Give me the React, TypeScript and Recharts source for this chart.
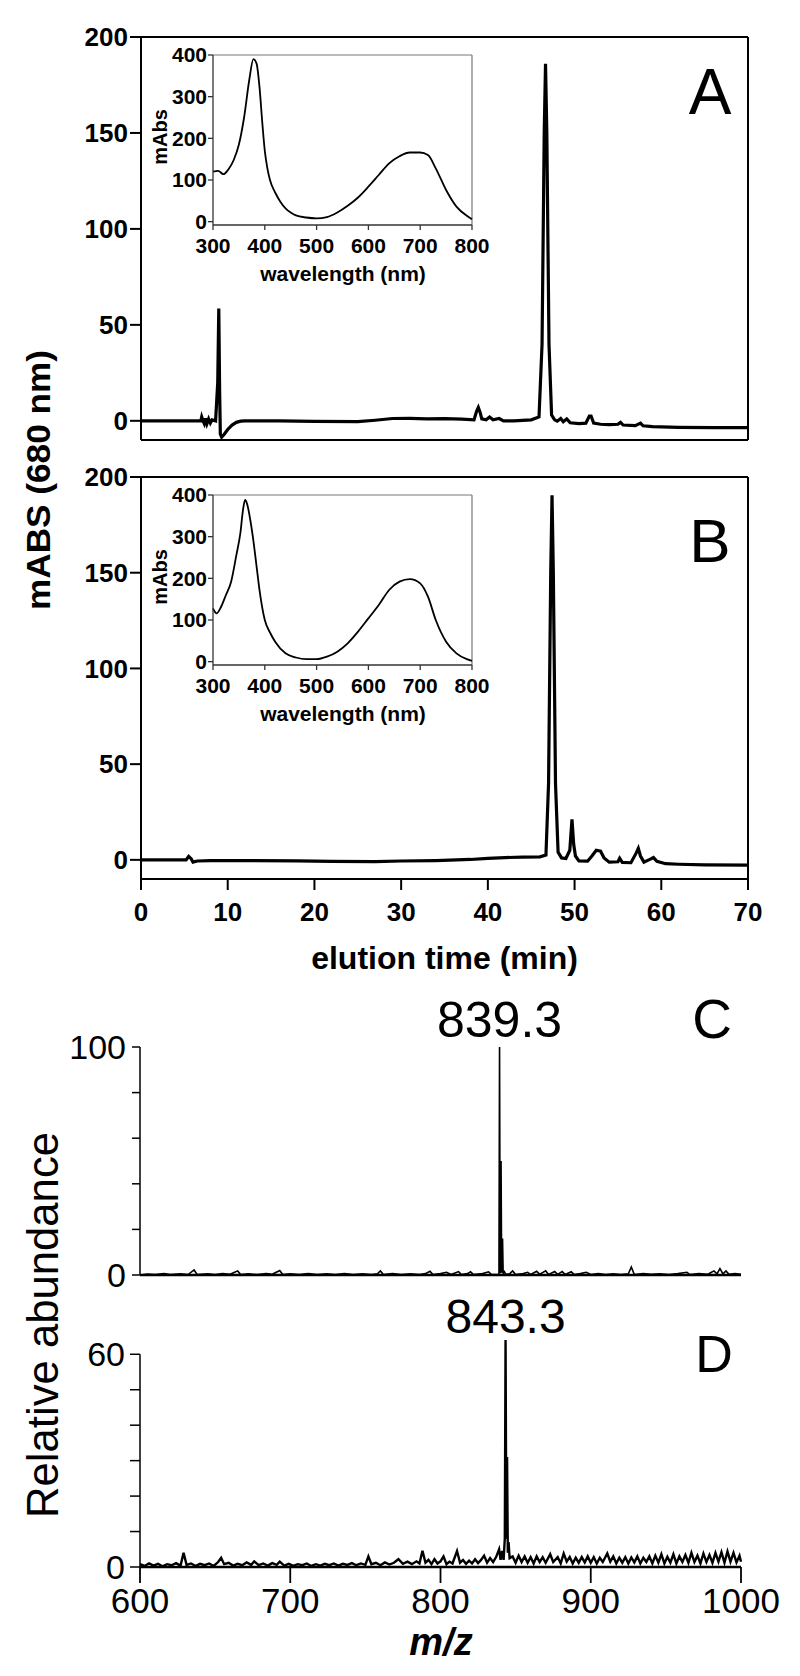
import React from 'react';
import { LineChart, Line, XAxis, YAxis, ReferenceLine, ReferenceDot } from 'recharts';

const FONT = '"Liberation Sans", Arial, Helvetica, sans-serif';

// ---- Panel A chromatogram (elution time, mABS at 680 nm)
const timeA = [0, 3, 6, 6.9, 7.0, 7.15, 7.3, 7.45, 7.6, 7.8, 8.0, 8.2, 8.6, 8.85, 8.97, 9.07, 9.15, 9.3, 9.6, 10.0, 10.5, 11.0, 11.5, 12, 16, 20, 25, 27, 29, 31, 33, 35, 37, 38.4, 38.7, 38.9, 39.1, 39.3, 39.8, 40.2, 40.6, 41.3, 41.8, 43, 45, 45.9, 46.25, 46.5, 46.65, 46.8, 47.05, 47.35, 47.7, 48.0, 48.4, 48.7, 49.1, 49.5, 50.5, 51.3, 51.7, 51.9, 52.2, 53, 54, 55.0, 55.3, 55.6, 57, 57.6, 57.9, 59, 62, 66, 70];
const absA = [0, 0, 0, 0, 2.0, 0, -1.5, 1.2, -1.5, 1.0, -1.2, 0.5, 0, 20, 58.5, 15, -7, -8.5, -7, -4.5, -2.2, -0.8, -0.2, 0, 0, -0.3, -0.4, 0.3, 1.2, 1.3, 1.0, 1.1, 0.9, 0.5, 5, 7, 4.5, 1, 0.5, 2, 0.5, 1.2, 0, 0, 0.5, 2, 40, 150, 186, 150, 40, 3, 0.5, -0.2, 1.2, -0.5, 1.0, -1, -1.5, -1.2, 2.5, 2.5, -1.2, -1.8, -2.0, -1.8, -0.8, -2.2, -2.5, -1.2, -2.6, -3.0, -3.4, -3.6, -3.6];

// ---- Panel B chromatogram
const timeB = [0, 3, 5.2, 5.5, 5.8, 6.0, 6.5, 8, 12, 18, 22, 27, 30, 34, 38, 40, 42, 44, 46, 46.7, 47.0, 47.25, 47.4, 47.55, 47.8, 48.1, 48.5, 49.0, 49.45, 49.7, 49.9, 50.1, 50.5, 51.5, 52.0, 52.5, 53.0, 53.4, 54, 55.0, 55.2, 55.5, 56.5, 57.1, 57.35, 57.6, 58.0, 58.8, 59.1, 59.5, 60.5, 62, 65, 70];
const absB = [0, 0, 0, 1.8, 0.5, -1.2, -0.6, -0.4, -0.4, -0.5, -0.8, -0.9, -0.6, -0.4, 0.2, 0.8, 1.2, 1.4, 1.6, 2.5, 40, 150, 190.5, 150, 40, 4, 1.0, 0.7, 5, 21.2, 8, 2, -0.5, -0.7, 2, 5, 4.5, 1, -1.2, -1.0, 0.8, -1.3, -1.5, 3.5, 6.0, 2, -1.2, 0.5, 1.2, -0.8, -2.0, -2.3, -2.6, -2.8];

// ---- Inset spectra (wavelength nm, mAbs)
const waveA = [300, 310, 320, 330, 340, 350, 360, 370, 378, 384, 390, 395, 400, 405, 410, 420, 430, 440, 450, 460, 480, 500, 520, 540, 560, 580, 600, 620, 640, 660, 680, 700, 715, 730, 750, 770, 790, 800];
const specA = [120, 122, 114, 126, 148, 185, 250, 340, 390, 380, 320, 240, 170, 128, 100, 70, 48, 32, 22, 15, 10, 8, 11, 22, 38, 58, 84, 112, 140, 157, 166, 166, 160, 128, 76, 36, 14, 6];
const waveB = [300, 307, 315, 325, 335, 345, 353, 358, 362, 366, 372, 378, 384, 390, 400, 410, 420, 440, 460, 480, 500, 520, 540, 560, 580, 600, 620, 640, 660, 680, 700, 715, 730, 750, 770, 790, 800];
const specB = [128, 116, 130, 160, 192, 255, 310, 365, 388, 378, 340, 290, 230, 170, 100, 70, 48, 20, 10, 6, 6, 12, 24, 44, 72, 104, 136, 172, 192, 198, 188, 156, 100, 48, 20, 6, 2];

// ---- Panel C mass spectrum (m/z, relative abundance)
const mzC = [600, 605, 610, 616, 620, 627, 632, 636, 638, 645, 650, 655, 660, 665, 667, 672, 678, 684, 688, 693, 695, 700, 706, 712, 718, 724, 730, 736, 742, 748, 754, 758, 760, 762, 768, 774, 780, 786, 790, 793, 795, 800, 804, 807, 812, 814, 818, 820, 822, 828, 832, 834, 838.9, 839.3, 839.7, 840.0, 840.3, 840.7, 841.3, 841.7, 842.5, 843.5, 846, 848, 850, 855, 858, 860, 864, 866, 870, 872, 876, 878, 881, 883, 887, 889, 893, 897, 900, 905, 910, 915, 920, 925, 927, 929, 935, 940, 946, 952, 958, 964, 966, 972, 978, 982, 984, 986, 988, 990, 992, 996, 1000];
const relC = [0, 0.4, 0.2, 0.6, 0.2, 0.5, 0.2, 2.2, 0.2, 0.5, 0.2, 0.6, 0.3, 1.8, 0.2, 0.5, 0.2, 0.6, 0.3, 2.0, 0.2, 0.5, 0.2, 0.6, 0.2, 0.5, 0.2, 0.6, 0.2, 0.5, 0.2, 0.5, 1.8, 0.2, 0.6, 0.2, 0.5, 0.2, 0.6, 1.6, 0.2, 0.6, 1.2, 0.2, 1.5, 0.2, 0.6, 1.4, 0.2, 0.6, 1.4, 0.2, 0.3, 100, 1.5, 0.8, 50, 1.0, 16, 0.5, 1.5, 0.3, 0.5, 1.8, 0.2, 0.6, 1.2, 0.2, 1.6, 0.3, 1.8, 0.2, 1.5, 0.3, 1.5, 0.2, 1.4, 0.2, 0.6, 1.2, 0.2, 0.6, 0.2, 0.5, 0.2, 0.5, 3.5, 0.2, 0.6, 0.3, 0.5, 0.2, 0.6, 1.2, 0.2, 0.6, 0.3, 1.8, 0.5, 2.8, 0.5, 1.8, 0.3, 0.6, 0.3];

// ---- Panel D mass spectrum
const mzD = [600, 603, 606, 609, 612, 615, 618, 621, 624, 627, 629, 631, 634, 637, 640, 643, 646, 649, 652, 654, 656, 659, 662, 665, 668, 671, 674, 676, 679, 682, 685, 688, 691, 693, 696, 699, 702, 705, 708, 711, 714, 717, 720, 723, 726, 729, 732, 735, 738, 741, 744, 747, 750, 752, 754, 757, 760, 763, 766, 769, 772, 775, 778, 781, 784, 786, 788, 790, 792, 794, 796, 798, 800, 802, 804, 806, 808, 811, 813, 815, 817, 819, 821, 823, 825, 827, 829, 831, 833, 835, 837, 839, 840, 841, 842, 842.8, 843.3, 843.8, 844.3, 844.8, 845.3, 846, 848, 850, 852, 854, 856, 858, 860, 862, 864, 866, 868, 870, 873, 875, 878, 880, 882, 884, 886, 888, 890, 892, 894, 896, 898, 900, 902, 904, 906, 908, 911, 913, 915, 917, 919, 921, 923, 925, 927, 929, 931, 933, 935, 937, 939, 941, 943, 945, 947, 949, 951, 953, 955, 957, 959, 961, 963, 965, 967, 969, 971, 973, 975, 977, 979, 981, 983, 985, 987, 989, 991, 993, 995, 997, 999, 1000];
const relD = [0.8, 0.3, 1.0, 0.4, 0.9, 0.2, 0.8, 0.5, 1.1, 0.4, 4.0, 0.6, 1.0, 0.3, 0.9, 0.5, 1.0, 0.3, 1.4, 2.6, 0.8, 1.2, 0.4, 0.9, 0.5, 1.3, 0.6, 1.6, 0.5, 1.0, 0.4, 1.1, 0.6, 1.5, 0.4, 0.9, 0.3, 0.8, 0.5, 1.0, 0.3, 0.8, 0.4, 0.9, 0.5, 1.0, 0.4, 0.9, 0.6, 1.1, 0.5, 1.0, 0.6, 3.0, 0.8, 1.2, 0.5, 1.3, 0.7, 1.2, 2.2, 0.9, 1.5, 0.8, 1.6, 1.0, 4.6, 1.2, 2.0, 0.8, 2.2, 1.0, 1.6, 3.0, 0.8, 1.5, 1.0, 4.5, 1.2, 2.0, 0.9, 1.8, 1.0, 2.2, 1.1, 2.0, 3.2, 1.2, 2.5, 1.4, 2.8, 5.0, 2.0, 4.5, 2.0, 8, 64, 8, 31, 4, 7, 2.5, 3.0, 1.2, 3.2, 1.4, 3.0, 1.2, 2.8, 1.0, 3.0, 1.4, 2.8, 1.2, 3.6, 1.4, 2.8, 1.0, 3.8, 1.5, 2.8, 1.0, 2.6, 1.2, 2.8, 1.3, 3.0, 1.2, 2.8, 1.0, 2.6, 1.4, 3.8, 1.5, 3.0, 1.0, 2.6, 1.2, 2.8, 1.0, 2.7, 1.3, 3.0, 1.0, 2.6, 1.4, 3.0, 1.0, 3.2, 1.2, 3.6, 1.0, 2.9, 1.2, 3.6, 1.0, 3.0, 1.4, 3.4, 1.2, 4.0, 1.4, 3.2, 1.0, 3.8, 1.4, 3.4, 1.2, 4.0, 1.5, 4.2, 1.2, 4.4, 1.5, 4.0, 1.3, 3.2, 1.5];

// ---- ticks and labels
const timeTicks = [0, 10, 20, 30, 40, 50, 60, 70];
const absTicks = [0, 50, 100, 150, 200];
const waveTicks = [300, 400, 500, 600, 700, 800];
const mAbsTicks = [0, 100, 200, 300, 400];
const mzTicks = [600, 700, 800, 900, 1000];
const relTicksC = [0, 20, 40, 60, 80, 100];
const relLabelsC = [0, 100];
const relTicksD = [0, 10, 20, 30, 40, 50, 60];
const relLabelsD = [0, 60];
const peakC = { mz: 839.3, rel: 100, label: '839.3' };
const peakD = { mz: 843.3, rel: 64, label: '843.3' };

const toRows = (xs: number[], ys: number[]) => xs.map((x, i) => ({ x, y: ys[i] }));

const BLACK = '#000';
const boldTick = (size: number) => ({ fill: BLACK, fontSize: size, fontWeight: 700, fontFamily: FONT });
const plainTick = (size: number) => ({ fill: BLACK, fontSize: size, fontFamily: FONT });

// y-axis tick that only writes a label for some of the tick values
const sparseTick = (labels: number[], size: number) => (props: any) => {
  const { x, y, payload } = props;
  if (!labels.includes(payload.value)) return <g />;
  return (
    <text x={x} y={y} dy="0.355em" textAnchor="end" fontSize={size} fontFamily={FONT} fill={BLACK}>
      {payload.value}
    </text>
  );
};

function Chromatogram({ times, values, top, showLabels }: { times: number[]; values: number[]; top: number; showLabels: boolean }) {
  const h = showLabels ? 520 : 470;
  return (
    <div style={{ position: 'absolute', left: 0, top, width: 800, height: h }}>
      <LineChart width={800} height={h} data={toRows(times, values)} margin={{ top: 37, right: 52, left: 81, bottom: 0 }}>
        <XAxis
          type="number"
          dataKey="x"
          domain={[0, 70]}
          ticks={timeTicks}
          interval={0}
          height={showLabels ? 81 : 30}
          tickSize={11}
          tickMargin={13}
          axisLine={{ stroke: BLACK, strokeWidth: 2 }}
          tickLine={{ stroke: BLACK, strokeWidth: 2 }}
          tick={showLabels ? boldTick(26) : false}
        />
        <YAxis
          type="number"
          domain={[-10, 200]}
          ticks={absTicks}
          interval={0}
          width={60}
          tickSize={11}
          tickMargin={2}
          axisLine={{ stroke: BLACK, strokeWidth: 2 }}
          tickLine={{ stroke: BLACK, strokeWidth: 2 }}
          tick={boldTick(26)}
        />
        <ReferenceLine y={200} stroke={BLACK} strokeWidth={2} />
        <ReferenceLine x={70} stroke={BLACK} strokeWidth={2} />
        <Line dataKey="y" type="linear" stroke={BLACK} strokeWidth={3.2} dot={false} isAnimationActive={false} />
      </LineChart>
    </div>
  );
}

function Inset({ waves, values, top }: { waves: number[]; values: number[]; top: number }) {
  return (
    <div style={{ position: 'absolute', left: 0, top, width: 520, height: 265 }}>
      <LineChart width={520} height={265} data={toRows(waves, values)} margin={{ top: 55, right: 48, left: 163, bottom: 0 }}>
        <XAxis
          type="number"
          dataKey="x"
          domain={[300, 800]}
          ticks={waveTicks}
          interval={0}
          height={40}
          tickSize={5}
          tickMargin={8}
          axisLine={{ stroke: '#333', strokeWidth: 1.3 }}
          tickLine={{ stroke: '#333', strokeWidth: 1.3 }}
          tick={boldTick(21)}
        />
        <YAxis
          type="number"
          domain={[-8, 400]}
          ticks={mAbsTicks}
          interval={0}
          width={50}
          tickSize={5}
          tickMargin={1}
          axisLine={{ stroke: '#333', strokeWidth: 1.3 }}
          tickLine={{ stroke: '#333', strokeWidth: 1.3 }}
          tick={boldTick(21)}
        />
        <ReferenceLine y={400} stroke="#777" strokeWidth={1.2} />
        <ReferenceLine x={800} stroke="#777" strokeWidth={1.2} />
        <Line dataKey="y" type="monotone" stroke={BLACK} strokeWidth={1.8} dot={false} isAnimationActive={false} />
      </LineChart>
    </div>
  );
}

function PanelC() {
  return (
    <div style={{ position: 'absolute', left: 0, top: 960, width: 800, height: 345 }}>
      <LineChart width={800} height={345} data={toRows(mzC, relC)} margin={{ top: 87, right: 59, left: 80, bottom: 0 }}>
        <XAxis type="number" dataKey="x" domain={[600, 1000]} ticks={mzTicks} height={30} tickLine={false} tick={false} axisLine={{ stroke: BLACK, strokeWidth: 2.5 }} />
        <YAxis
          type="number"
          domain={[0, 100]}
          ticks={relTicksC}
          interval={0}
          width={60}
          tickSize={8}
          tickMargin={6}
          axisLine={{ stroke: BLACK, strokeWidth: 1.5 }}
          tickLine={{ stroke: BLACK, strokeWidth: 1.5 }}
          tick={sparseTick(relLabelsC, 34)}
        />
        <Line dataKey="y" type="linear" stroke={BLACK} strokeWidth={1.6} dot={false} isAnimationActive={false} />
        <ReferenceDot
          x={peakC.mz}
          y={peakC.rel}
          r={0}
          fill="none"
          stroke="none"
          label={{ value: peakC.label, position: 'top', offset: 10, fontSize: 50, fill: BLACK, fontFamily: FONT }}
        />
      </LineChart>
    </div>
  );
}

function PanelD() {
  return (
    <div style={{ position: 'absolute', left: 0, top: 1290, width: 800, height: 340 }}>
      <LineChart width={800} height={340} data={toRows(mzD, relD)} margin={{ top: 43, right: 59, left: 80, bottom: 0 }}>
        <XAxis
          type="number"
          dataKey="x"
          domain={[600, 1000]}
          ticks={mzTicks}
          interval={0}
          height={63}
          tickSize={16}
          tickMargin={5}
          axisLine={{ stroke: BLACK, strokeWidth: 2.5 }}
          tickLine={{ stroke: BLACK, strokeWidth: 1.8 }}
          tick={plainTick(35)}
        />
        <YAxis
          type="number"
          domain={[0, 66]}
          ticks={relTicksD}
          interval={0}
          width={60}
          tickSize={10}
          tickMargin={5}
          axisLine={false}
          tickLine={{ stroke: BLACK, strokeWidth: 1.5 }}
          tick={sparseTick(relLabelsD, 34)}
        />
        <ReferenceLine segment={[{ x: 600, y: 0 }, { x: 600, y: 60 }]} stroke={BLACK} strokeWidth={1.5} />
        <Line dataKey="y" type="linear" stroke={BLACK} strokeWidth={2.4} dot={false} isAnimationActive={false} />
        <ReferenceDot
          x={peakD.mz}
          y={peakD.rel}
          r={0}
          fill="none"
          stroke="none"
          label={{ value: peakD.label, position: 'top', offset: 7, fontSize: 48, fill: BLACK, fontFamily: FONT }}
        />
      </LineChart>
    </div>
  );
}

function Overlay() {
  const t = { fontFamily: FONT, fill: BLACK } as const;
  return (
    <svg width={800} height={1676} style={{ position: 'absolute', left: 0, top: 0, pointerEvents: 'none' }}>
      <text {...t} x={710} y={114} fontSize={64} textAnchor="middle">A</text>
      <text {...t} x={710} y={562} fontSize={62} textAnchor="middle">B</text>
      <text {...t} x={712} y={1038} fontSize={55} textAnchor="middle">C</text>
      <text {...t} x={714} y={1372} fontSize={52} textAnchor="middle">D</text>
      <text {...t} transform="translate(50,480) rotate(-90)" fontSize={33} fontWeight={700} textAnchor="middle" textLength={260} lengthAdjust="spacingAndGlyphs">mABS (680 nm)</text>
      <text {...t} x={444.5} y={969} fontSize={32} fontWeight={700} textAnchor="middle">elution time (min)</text>
      <text {...t} transform="translate(58,1325) rotate(-90)" fontSize={44} textAnchor="middle" textLength={386} lengthAdjust="spacingAndGlyphs">Relative abundance</text>
      <text {...t} x={441} y={1655} fontSize={38} fontWeight={700} fontStyle="italic" textAnchor="middle">m/z</text>
      <text {...t} x={343} y={281} fontSize={21} fontWeight={700} textAnchor="middle">wavelength (nm)</text>
      <text {...t} transform="translate(167,137) rotate(-90)" fontSize={20} fontWeight={700} textAnchor="middle">mAbs</text>
      <text {...t} x={343} y={721} fontSize={21} fontWeight={700} textAnchor="middle">wavelength (nm)</text>
      <text {...t} transform="translate(167,577) rotate(-90)" fontSize={20} fontWeight={700} textAnchor="middle">mAbs</text>
    </svg>
  );
}

export default function App() {
  return (
    <div style={{ position: 'absolute', left: 0, top: 0, width: 800, height: 1676, background: '#fff', fontFamily: FONT }}>
      <Chromatogram times={timeA} values={absA} top={0} showLabels={false} />
      <Chromatogram times={timeB} values={absB} top={440} showLabels={true} />
      <Inset waves={waveA} values={specA} top={0} />
      <Inset waves={waveB} values={specB} top={440} />
      <PanelC />
      <PanelD />
      <Overlay />
    </div>
  );
}
